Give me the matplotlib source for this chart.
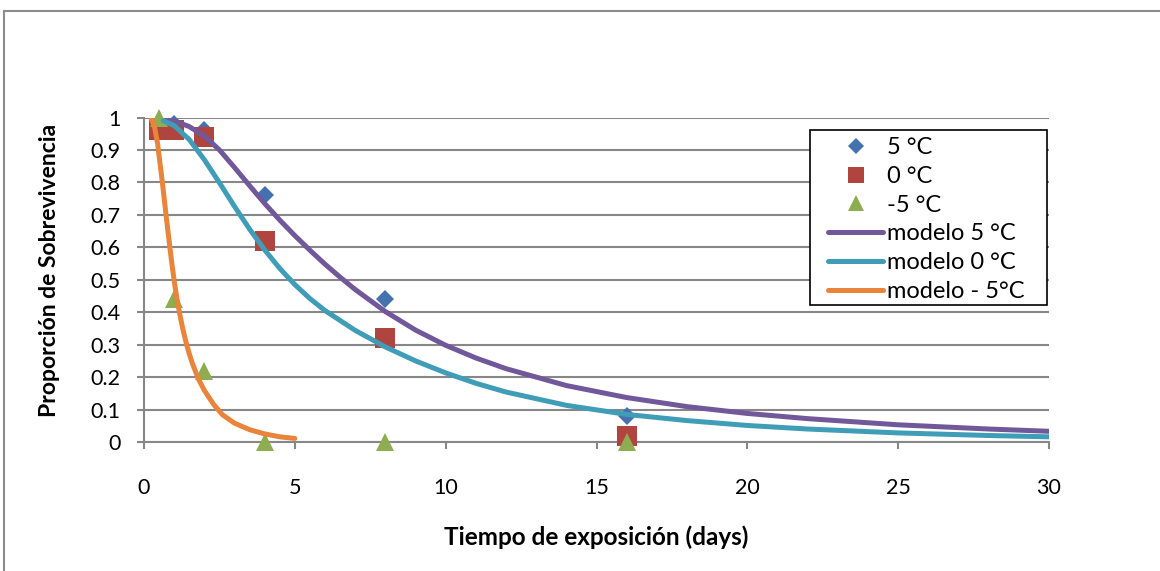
import matplotlib
matplotlib.use("Agg")
import matplotlib.pyplot as plt
from matplotlib.lines import Line2D
from matplotlib.patches import Rectangle

plt.rcParams['font.family'] = ['Lato', 'DejaVu Sans']

# Observed survival proportions
t_5c = [1, 2, 4, 8, 16]
s_5c = [0.98, 0.96, 0.76, 0.44, 0.08]

t_0c = [0.5, 1, 2, 4, 8, 16]
s_0c = [0.96, 0.96, 0.94, 0.62, 0.32, 0.02]

t_m5c = [0.5, 1, 2, 4, 8, 16]
s_m5c = [1.0, 0.44, 0.22, 0.0, 0.0, 0.0]

# Fitted model curves
tm_5c = [0.75, 1.0, 1.5, 2.0, 2.5, 3.0, 3.5, 4.0, 4.5, 5.0, 5.5, 6.0, 6.5, 7.0,
         8.0, 9.0, 10.0, 11.0, 12.0, 14.0, 16.0, 18.0, 20.0, 22.0, 25.0, 28.0, 30.0]
sm_5c = [0.995, 0.99, 0.972, 0.943, 0.90, 0.846, 0.79, 0.735, 0.684, 0.636, 0.591,
         0.548, 0.508, 0.470, 0.402, 0.345, 0.298, 0.259, 0.226, 0.174, 0.137,
         0.109, 0.088, 0.072, 0.053, 0.040, 0.033]

tm_0c = [0.64, 1.0, 1.5, 2.0, 2.5, 3.0, 3.5, 4.0, 4.5, 5.0, 5.5, 6.0, 7.0,
         8.0, 9.0, 10.0, 11.0, 12.0, 14.0, 16.0, 18.0, 20.0, 22.0, 25.0, 28.0, 30.0]
sm_0c = [0.99, 0.975, 0.932, 0.87, 0.799, 0.726, 0.656, 0.592, 0.535, 0.485, 0.442,
         0.405, 0.344, 0.293, 0.25, 0.213, 0.181, 0.154, 0.113, 0.085, 0.066, 0.051,
         0.040, 0.028, 0.020, 0.016]

tm_m5c = [0.25, 0.35, 0.45, 0.6, 0.75, 0.9, 1.0, 1.1, 1.2, 1.3, 1.4, 1.5, 1.6, 1.8,
          2.0, 2.3, 2.6, 3.0, 3.5, 4.0, 4.5, 5.0]
sm_m5c = [0.995, 0.97, 0.92, 0.807, 0.684, 0.567, 0.497, 0.437, 0.387, 0.343, 0.305,
          0.272, 0.243, 0.195, 0.159, 0.117, 0.084, 0.058, 0.038, 0.025, 0.016, 0.011]

x_ticks = [0, 5, 10, 15, 20, 25, 30]
y_ticks = [0, 0.1, 0.2, 0.3, 0.4, 0.5, 0.6, 0.7, 0.8, 0.9, 1]
y_tick_labels = ['0', '0.1', '0.2', '0.3', '0.4', '0.5', '0.6', '0.7', '0.8', '0.9', '1']

W, H = 1160, 571
fig = plt.figure(figsize=(W / 100, H / 100), dpi=100)
fig.patch.set_facecolor('white')

# chart frame (top and left edges)
frame_col = '#8c8c8c'
fig.add_artist(Line2D([3.5 / W, 3.5 / W], [0, 1 - 10.5 / H], transform=fig.transFigure,
                      color=frame_col, lw=1.5))
fig.add_artist(Line2D([3.5 / W, 1], [1 - 10.5 / H, 1 - 10.5 / H], transform=fig.transFigure,
                      color=frame_col, lw=1.5))

ax = fig.add_axes([144 / W, 1 - 442 / H, (1049 - 144) / W, (442 - 117.5) / H])

grid_col = '#878787'
for s in ['top', 'right']:
    ax.spines[s].set_visible(False)
for s in ['left', 'bottom']:
    ax.spines[s].set_color(grid_col)
    ax.spines[s].set_linewidth(1.5)

ax.set_xlim(0, 30)
ax.set_ylim(0, 1)
ax.set_xticks(x_ticks)
ax.set_xticklabels([str(v) for v in x_ticks])
ax.set_yticks(y_ticks)
ax.set_yticklabels(y_tick_labels)
ax.yaxis.grid(True, color=grid_col, lw=1.5)
ax.set_axisbelow(True)
ax.tick_params(axis='both', direction='out', length=5, width=1.5, color=grid_col,
               labelsize=15.5, labelcolor='black')
ax.tick_params(axis='x', pad=21)
ax.tick_params(axis='y', pad=12)

# observations
h1, = ax.plot(t_5c, s_5c, linestyle='none', marker='D', ms=9.5, color='#4472B0',
              markeredgewidth=0, clip_on=False, zorder=3, label='5 °C')
h2, = ax.plot(t_0c, s_0c, linestyle='none', marker='s', ms=14, color='#B0443F',
              markeredgewidth=0, clip_on=False, zorder=3, label='0 °C')
h3, = ax.plot(t_m5c, s_m5c, linestyle='none', marker='^', ms=13, color='#8EAD50',
              markeredgewidth=0, clip_on=False, zorder=3, label='-5 °C')

# models
h4, = ax.plot(tm_5c, sm_5c, color='#71589A', lw=3.6, solid_capstyle='round',
              solid_joinstyle='round', zorder=4, label='modelo 5 °C')
h5, = ax.plot(tm_0c, sm_0c, color='#3F9DB7', lw=3.6, solid_capstyle='round',
              solid_joinstyle='round', zorder=4, label='modelo 0 °C')
h6, = ax.plot(tm_m5c, sm_m5c, color='#E8843C', lw=3.6, solid_capstyle='round',
              solid_joinstyle='round', zorder=4, label='modelo - 5°C')

# legend box
ax.add_patch(Rectangle((809.5 / W, 1 - 305 / H), (1047 - 809.5) / W, (305 - 130) / H,
                       transform=fig.transFigure, facecolor='white', edgecolor='black',
                       lw=1.2, clip_on=False, zorder=6))
leg = ax.legend(handles=[h1, h2, h3, h4, h5, h6], loc='upper left',
                bbox_to_anchor=(828 / W, 1 - 137 / H), bbox_transform=fig.transFigure,
                borderaxespad=0, fontsize=17, frameon=False, handlelength=2.33,
                handletextpad=0.17, labelspacing=0.33, borderpad=0, markerscale=0.85)
leg.set_zorder(7)

fig.text(50 / W, 1 - 270 / H, 'Proporción de Sobrevivencia', rotation=90,
         ha='center', va='center', fontsize=16.5, fontweight='bold')
fig.text(596 / W, 1 - 537 / H, 'Tiempo de exposición (days)', ha='center',
         va='center', fontsize=17.5, fontweight='bold')

fig.savefig('out.png', dpi=100)
